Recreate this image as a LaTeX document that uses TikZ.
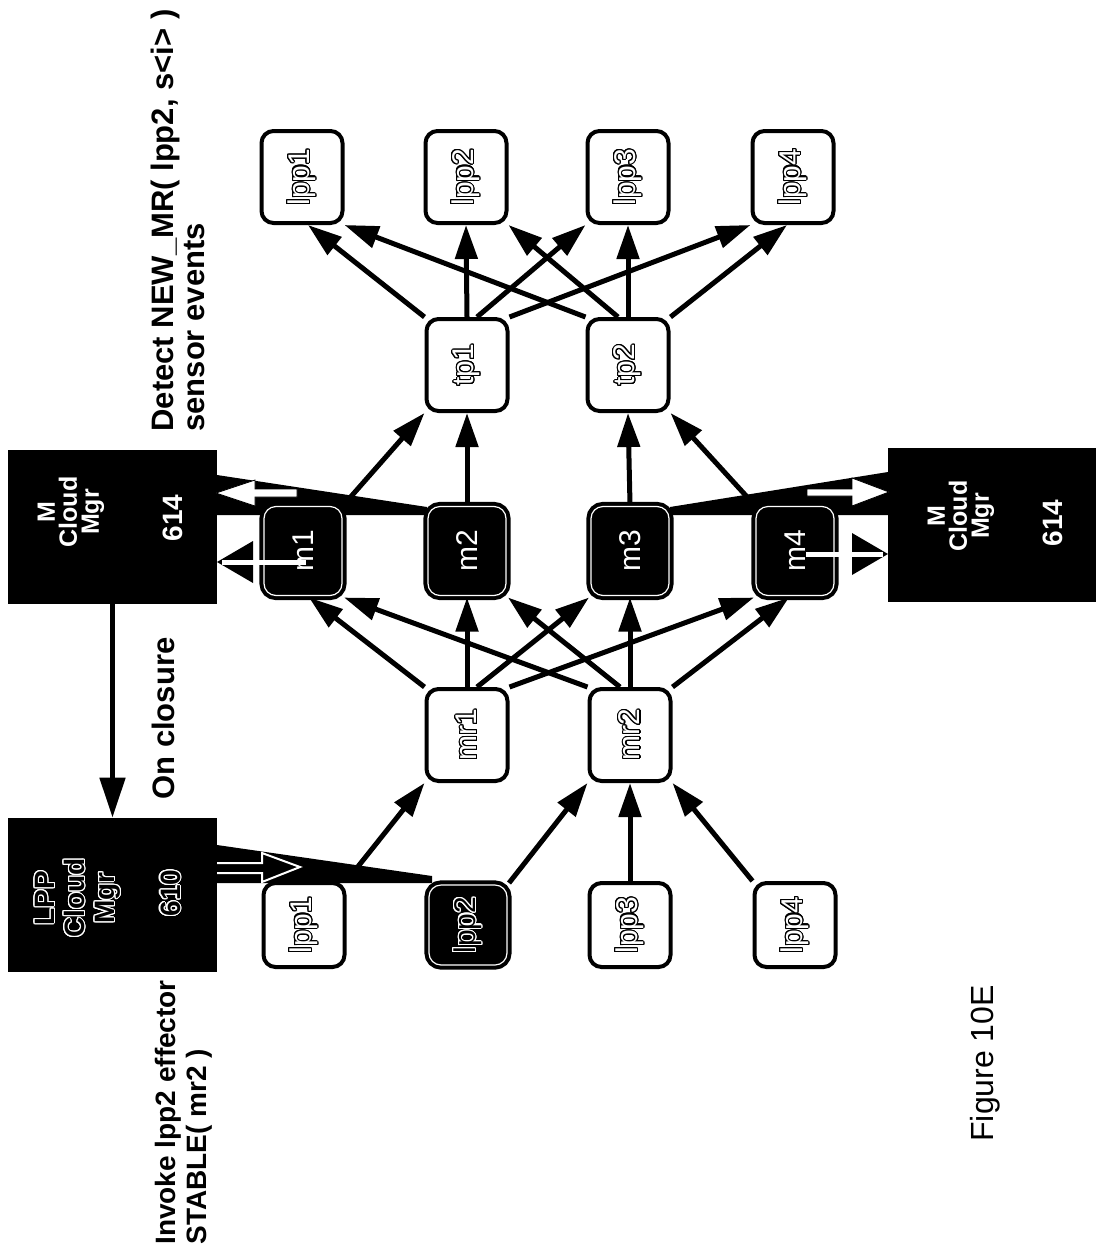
\documentclass[tikz,border=0pt]{standalone}
\usepackage{fontspec}
\setmainfont{Liberation Sans}
\usepackage{graphicx}
\usepackage{contour}
\contourlength{0.55pt}
\contournumber{20}
\usetikzlibrary{arrows.meta}
\newcommand{\hol}[1]{\rotatebox{90}{\contour{black}{#1}}}
\newcommand{\holw}[1]{\rotatebox{90}{\contour{white}{#1}}}
\begin{document}
\begin{tikzpicture}[x=0.5pt,y=-0.5pt,
  box/.style={draw=black, line width=2pt, rounded corners=6pt, fill=white,
    minimum width=40.5pt, minimum height=46pt, inner sep=0pt, text=white,
    font=\fontsize{15}{15}\selectfont},
  dbox/.style={box, fill=black, text=white, double=white, double distance=0.6pt,
    minimum width=39pt, minimum height=44.5pt},
  lowrow/.style={minimum height=42pt},
  mgr/.style={fill=black, inner sep=0pt, minimum width=104.5pt, minimum height=77pt},
  mtxt/.style={text=white, rotate=90, align=center, inner sep=0pt,
    font=\bfseries\fontsize{12.5}{11}\selectfont},
  mnum/.style={mtxt, font=\bfseries\fontsize{14}{14}\selectfont},
  ltxt/.style={text=black, rotate=90, align=center, inner sep=0pt,
    font=\bfseries\fontsize{14}{15}\selectfont},
  ed/.style={line width=2.5pt, -{Triangle[length=17pt,width=11pt]}},
  lbl/.style={inner sep=0pt, rotate=90, anchor=north west, align=left,
    font=\bfseries\fontsize{15.5}{15.5}\selectfont},
  warrow/.style={fill=white, draw=black, line width=0.4pt},
]
\useasboundingbox (0,0) rectangle (1096,1253);

% manager boxes
\node[mgr] (MCL) at (112.5,526.5) {};
\node[mgr] (MCR) at (992,525) {};
\node[mgr] (LPPM) at (112.5,895) {};
\node[mtxt] (MCLt) at (71,512) {M\\Cloud\\Mgr};
\node[mnum] (MCLn) at (173,518) {614};
\node[mtxt] (MCRt) at (961,516) {M\\Cloud\\Mgr};
\node[mnum] (MCRn) at (1053,523) {614};
\node[ltxt] (LPPt) at (78,898) {\contour{white}{LPP}\\\contour{white}{Cloud}\\\contour{white}{Mgr}};
\node[ltxt] (LPPn) at (171,893) {\contour{white}{610}};

% wedges (behind nodes)
\fill (217,475) -- (427,507) -- (427,515) -- (217,515) -- cycle;
\fill (888,472) -- (670,507) -- (670,515) -- (888,515) -- cycle;
\fill (217,845) -- (432,876) -- (432,883) -- (217,883) -- cycle;

% nodes
\node[box] (T1) at (302,177) {\hol{lpp1}};
\node[box] (T2) at (466,177) {\hol{lpp2}};
\node[box] (T3) at (628,177) {\hol{lpp3}};
\node[box] (T4) at (793,177) {\hol{lpp4}};
\node[box] (tp1) at (467,365) {\hol{tp1}};
\node[box] (tp2) at (628,365) {\hol{tp2}};
\node[dbox] (m1) at (303,551) {\rotatebox{90}{m1}};
\node[dbox] (m2) at (467,551) {\rotatebox{90}{m2}};
\node[dbox] (m3) at (630,551) {\rotatebox{90}{m3}};
\node[dbox] (m4) at (795,551) {\rotatebox{90}{m4}};
\node[box] (mr1) at (467,735) {\hol{mr1}};
\node[box] (mr2) at (630,735) {\hol{mr2}};
\node[box, lowrow] (B1) at (304,925) {\hol{lpp1}};
\node[dbox, minimum height=40pt, text=black] (B2) at (468,925) {\holw{lpp2}};
\node[box, lowrow] (B3) at (630,925) {\hol{lpp3}};
\node[box, lowrow] (B4) at (795,925) {\hol{lpp4}};

% edges
\draw[ed] (B1.north east) -- (mr1.south west);
\draw[ed] (B2.north east) -- (mr2.south west);
\draw[ed] (B3.north) -- (mr2.south);
\draw[ed] (B4.north west) -- (mr2.south east);

\draw[ed] (mr1.north west) -- ([xshift=3pt]m1.south);
\draw[ed] (mr1.north) -- (m2.south);
\draw[ed] ([xshift=5pt]mr1.north) -- (m3.south west);
\draw[ed] (mr1.north east) -- (m4.south west);
\draw[ed] (mr2.north west) -- (m1.south east);
\draw[ed] ([xshift=-5pt]mr2.north) -- (m2.south east);
\draw[ed] (mr2.north) -- (m3.south);
\draw[ed] (mr2.north east) -- ([xshift=-3pt]m4.south);

\draw[ed] (m1.north east) -- (tp1.south west);
\draw[ed] (m2.north) -- (tp1.south);
\draw[ed] (m3.north) -- (tp2.south);
\draw[ed] (m4.north west) -- (tp2.south east);

\draw[ed] (tp1.north west) -- ([xshift=3pt]T1.south);
\draw[ed] (tp1.north) -- (T2.south);
\draw[ed] ([xshift=5pt]tp1.north) -- (T3.south west);
\draw[ed] (tp1.north east) -- (T4.south west);
\draw[ed] (tp2.north west) -- (T1.south east);
\draw[ed] ([xshift=-5pt]tp2.north) -- (T2.south east);
\draw[ed] (tp2.north) -- (T3.south);
\draw[ed] (tp2.north east) -- ([xshift=-3pt]T4.south);

\draw[line width=2.5pt, -{Triangle[length=20pt,width=12.5pt]}] (MCL.south) -- (LPPM.north);

% white arrows into managers
\filldraw[warrow] (297,489) -- (255,489) -- (255,480) -- (216,493) -- (255,506) -- (255,497) -- (297,497) -- cycle;
\filldraw[warrow] (807,489) -- (852,489) -- (852,478) -- (889,492) -- (852,506) -- (852,496) -- (807,496) -- cycle;
\fill (253,541) -- (217,562) -- (253,583) -- cycle;
\coordinate (m1s) at (306,562);
\coordinate (m1e) at (222,562);
\draw[white, line width=2.5pt] (m1s) -- (m1e);
\fill (852,533) -- (888,554) -- (852,575) -- cycle;
\coordinate (m4s) at (806,554);
\coordinate (m4e) at (883,554);
\draw[white, line width=2.5pt] (m4s) -- (m4e);
% block arrow from LPP manager
\filldraw[fill=black, draw=white, line width=1pt] (217,863) -- (262,863) -- (262,853) -- (300,867) -- (262,882) -- (262,873) -- (217,873);

% labels
\node[lbl] (det) at (151,432) {Detect NEW\_MR(\ lpp2, s<i>\ )\\sensor events};
\node[lbl] (onc) at (152,800) {On closure};
\node[lbl, font=\bfseries\fontsize{14}{15.5}\selectfont] (inv) at (155,1245) {Invoke lpp2 effector\\STABLE( mr2 )};
\node[lbl, font=\fontsize{16}{16}\selectfont] (fig) at (970,1142) {Figure 10E};
\end{tikzpicture}
\end{document}
